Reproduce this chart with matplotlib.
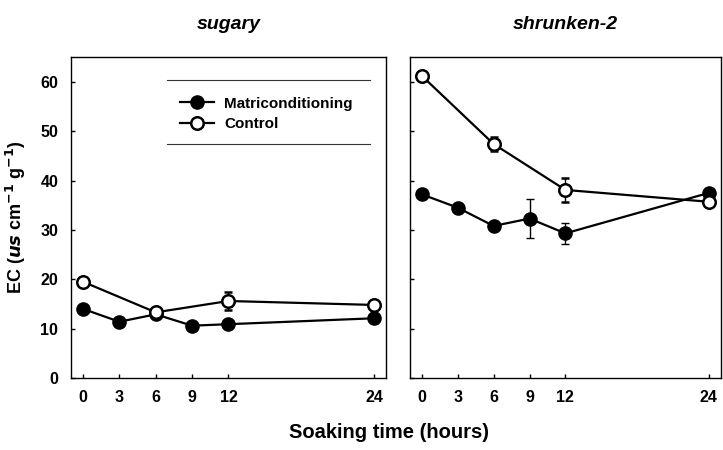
#!/usr/bin/env python3

import matplotlib

matplotlib.use("Agg")
import matplotlib.pyplot as plt
from matplotlib.lines import Line2D

plt.rcParams["font.family"] = ["Liberation Sans", "DejaVu Sans"]
plt.rcParams["font.weight"] = "bold"

# soaking time (hours)
hours_matric = [0, 3, 6, 9, 12, 24]
hours_control = [0, 6, 12, 24]

# sugary
sugary_matric = [14.0, 11.4, 12.9, 10.6, 10.9, 12.1]
sugary_matric_err = [0.4, 0.3, 0.3, 0.3, 0.4, 0.4]
sugary_control = [19.5, 13.3, 15.6, 14.8]
sugary_control_err = [0.4, 0.4, 1.8, 0.5]

# shrunken-2
sh2_matric = [37.2, 34.5, 30.8, 32.3, 29.3, 37.5]
sh2_matric_err = [0.4, 0.4, 0.9, 4.0, 2.1, 0.5]
sh2_control = [61.2, 47.4, 38.1, 35.7]
sh2_control_err = [0.5, 1.5, 2.4, 0.5]

panels = [
    ("sugary", sugary_matric, sugary_matric_err, sugary_control, sugary_control_err),
    ("shrunken-2", sh2_matric, sh2_matric_err, sh2_control, sh2_control_err),
]

fig = plt.figure(figsize=(7.23, 4.5), dpi=100)
ax_left = fig.add_axes([0.098, 0.16, 0.436, 0.713])
ax_right = fig.add_axes([0.567, 0.16, 0.430, 0.713])

for ax, (title, m, m_err, c, c_err) in zip([ax_left, ax_right], panels):
    ax.errorbar(hours_matric, m, yerr=m_err, color="black", lw=1.6,
                marker="o", ms=9.5, mfc="black", mec="black",
                capsize=3, elinewidth=1, capthick=1, zorder=3)
    ax.errorbar(hours_control, c, yerr=c_err, color="black", lw=1.6,
                marker="o", ms=9, mfc="white", mec="black", mew=1.8,
                capsize=3, elinewidth=1, capthick=1, zorder=4)
    ax.set_xlim(-1, 25)
    ax.set_ylim(0, 65)
    ax.set_xticks([0, 3, 6, 9, 12, 24])
    ax.set_yticks([0, 10, 20, 30, 40, 50, 60])
    ax.tick_params(direction="in", length=3, width=1, labelsize=11.5, pad=9)
    ax.set_title(title, fontsize=14, fontweight="bold", style="italic", pad=20)
    for spine in ax.spines.values():
        spine.set_linewidth(1)

ax_right.tick_params(labelleft=False)

ax_left.set_ylabel(r"EC ($\mathit{us}$ cm$^{-1}$ g$^{-1}$)", fontsize=13,
                   fontweight="bold", labelpad=9)
fig.text(0.538, 0.038, "Soaking time (hours)", ha="center", va="center",
         fontsize=14.5, fontweight="bold")

handles = [
    Line2D([], [], color="black", lw=1.6, marker="o", ms=9.5, mfc="black", mec="black"),
    Line2D([], [], color="black", lw=1.6, marker="o", ms=9, mfc="white", mec="black", mew=1.8),
]
ax_left.legend(handles, ["Matriconditioning", "Control"], loc="upper left",
               bbox_to_anchor=(0.346, 0.877), borderaxespad=0, borderpad=0,
               frameon=False, fontsize=11, handlelength=2.2, handletextpad=0.7,
               labelspacing=0.45)
for yy in (0.928, 0.729):
    ax_left.add_line(Line2D([0.305, 0.949], [yy, yy], transform=ax_left.transAxes,
                            color="#333333", lw=0.8))

fig.savefig("out.png", dpi=100)
